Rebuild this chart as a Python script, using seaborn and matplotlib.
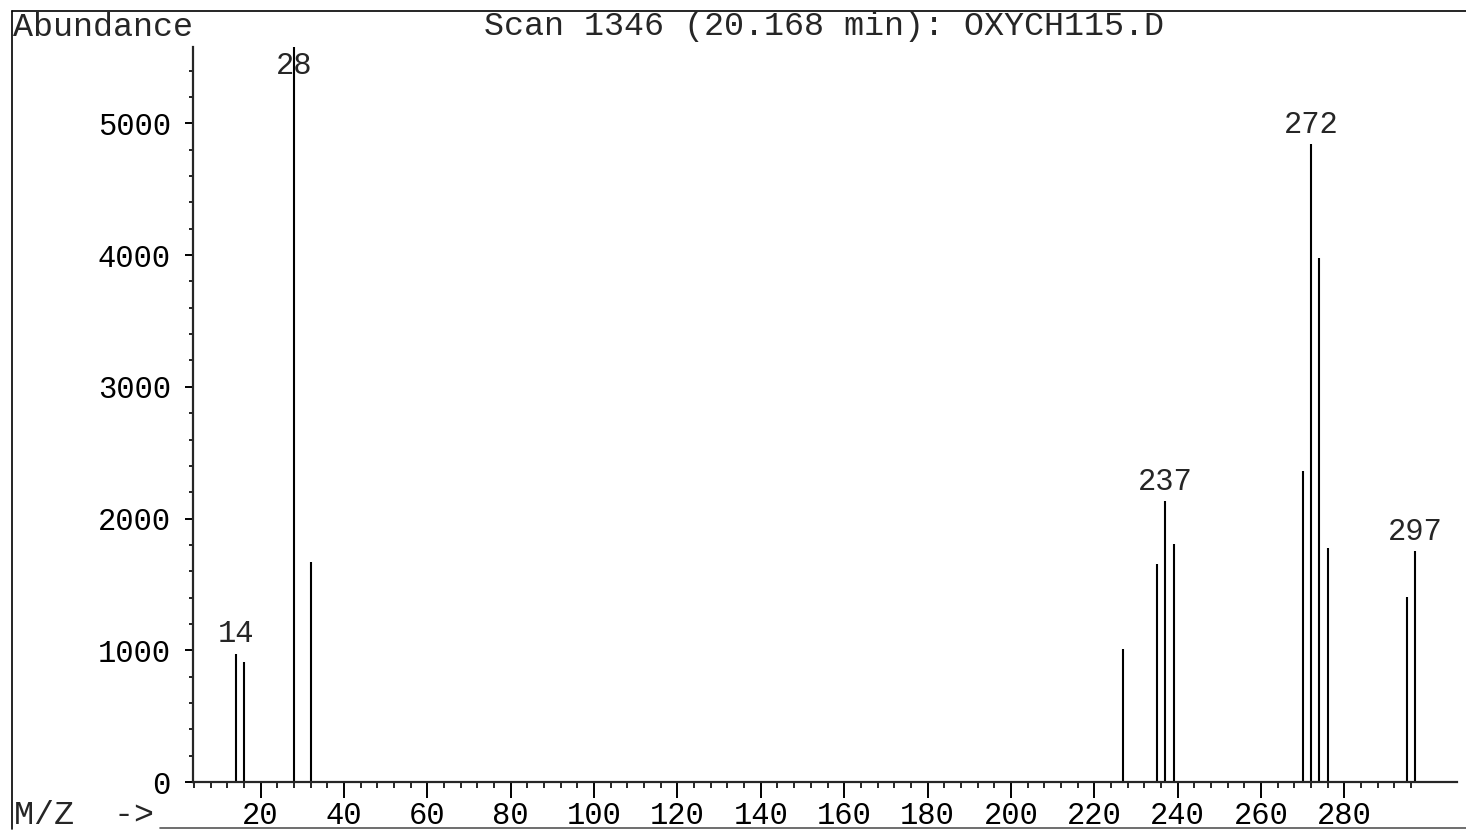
import numpy as np
import pandas as pd
import matplotlib
matplotlib.use("Agg")
import matplotlib.pyplot as plt
from matplotlib.lines import Line2D
from matplotlib.ticker import FixedLocator
import seaborn as sns

# ---- data ----
mz = [14, 16, 28, 32, 227, 235, 237, 239, 270, 272, 274, 276, 295, 297]
abundance = [975, 912, 5600, 1670, 1010, 1655, 2130, 1805, 2360, 4840, 3980, 1775, 1405, 1750]
labeled_mz = [14, 28, 237, 272, 297]
title_text = "Scan 1346 (20.168 min): OXYCH115.D"
y_label_text = "Abundance"
x_label_text = "M/Z  ->"
y_major_ticks = [0, 1000, 2000, 3000, 4000, 5000]
x_major_ticks = list(range(20, 281, 20))

df = pd.DataFrame({"mz": mz, "abundance": abundance})

sns.set_theme(style="ticks")
plt.rcParams["font.family"] = ["Liberation Mono", "DejaVu Sans Mono"]

W, H = 1466, 831
fig = plt.figure(figsize=(W / 100, H / 100), dpi=100)
ax = fig.add_axes([193 / W, 1 - 782 / H, (1457 - 193) / W, (782 - 47) / H])

ax.vlines(df["mz"], 0, df["abundance"], colors="black", linewidth=1.5)

ymax = 5580
ax.set_xlim(3.8, 307)
ax.set_ylim(0, ymax)

fs_tick = 22
fs_head = 24
weight = "medium"

for m, a in zip(df["mz"], df["abundance"]):
    if m not in labeled_mz:
        continue
    if a >= ymax:
        ax.annotate(str(m), xy=(m, ymax), xytext=(0, -3), textcoords="offset points",
                    ha="center", va="top", fontsize=fs_tick, fontweight=weight,
                    annotation_clip=False)
    else:
        ax.annotate(str(m), xy=(m, a), xytext=(0, 3), textcoords="offset points",
                    ha="center", va="bottom", fontsize=fs_tick, fontweight=weight,
                    annotation_clip=False)

sns.despine(ax=ax)
ax.spines["left"].set_linewidth(1.6)
ax.spines["bottom"].set_linewidth(1.6)

ax.yaxis.set_major_locator(FixedLocator(y_major_ticks))
ax.yaxis.set_minor_locator(FixedLocator(list(range(0, 5401, 200))))
ax.xaxis.set_major_locator(FixedLocator(x_major_ticks))
ax.xaxis.set_minor_locator(FixedLocator(list(range(4, 297, 4))))

ax.tick_params(axis="x", which="major", direction="out", length=11.5, width=1.4,
               pad=2, labelsize=fs_tick, color="black", labelcolor="black")
ax.tick_params(axis="x", which="minor", direction="out", length=4.5, width=1.2, color="black")
ax.tick_params(axis="y", which="major", direction="out", length=6, width=1.4,
               pad=10, labelsize=fs_tick, color="black", labelcolor="black")
ax.tick_params(axis="y", which="minor", direction="out", length=3, width=1.2, color="black")
for lab in ax.get_xticklabels() + ax.get_yticklabels():
    lab.set_fontweight(weight)

ax.set_xlabel("")
ax.set_ylabel("")

fig.text(13 / W, 1 - 27 / H, y_label_text, ha="left", va="center",
         fontsize=fs_head, fontweight=weight)
fig.text(824 / W, 1 - 27 / H, title_text, ha="center", va="center",
         fontsize=fs_head, fontweight=weight)
fig.text(14 / W, 1 - 815 / H, x_label_text, ha="left", va="center",
         fontsize=fs_head, fontweight=weight)

# outer frame
fig.add_artist(Line2D([12 / W, 12 / W], [1 - 11 / H, 1 - 829 / H], transform=fig.transFigure,
                      color="black", linewidth=1.2))
fig.add_artist(Line2D([12 / W, 1.0], [1 - 11 / H, 1 - 11 / H], transform=fig.transFigure,
                      color="black", linewidth=1.2))
fig.add_artist(Line2D([160 / W, 1.0], [1 - 828 / H, 1 - 828 / H], transform=fig.transFigure,
                      color="#555555", linewidth=1.2))

fig.savefig("out.png", dpi=100, facecolor="white")
